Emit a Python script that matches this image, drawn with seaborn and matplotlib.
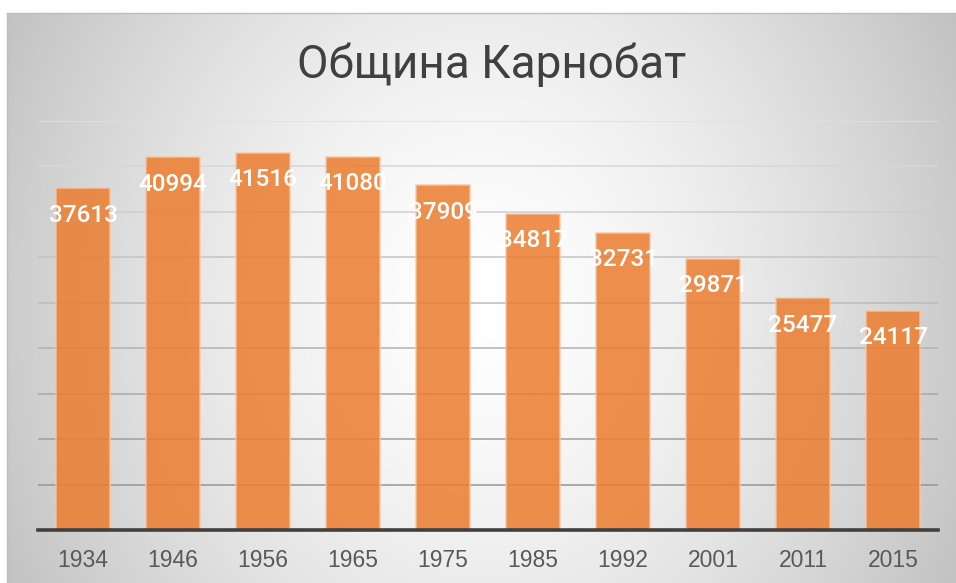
import numpy as np
import pandas as pd
import matplotlib
matplotlib.use("Agg")
import matplotlib.pyplot as plt
import seaborn as sns

years = ["1934", "1946", "1956", "1965", "1975", "1985", "1992", "2001", "2011", "2015"]
population = [37613, 40994, 41516, 41080, 37909, 34817, 32731, 29871, 25477, 24117]
title = "Община Карнобат"

sns.set_theme(style="white")
plt.rcParams["font.family"] = ["Liberation Sans", "DejaVu Sans"]

W, H = 956, 583
fig = plt.figure(figsize=(W / 100, H / 100), dpi=100)

# background gradient with frame
bg = fig.add_axes([0, 0, 1, 1], zorder=-10)
yy, xx = np.mgrid[0:H, 0:W]
d = np.sqrt(((xx - 480) / 520.0) ** 2 + ((yy - 300) / 600.0) ** 2)
val = 1 - 0.23 * d ** 1.5
val = np.clip(val, 0.72, 1.0)
img = np.dstack([val, val, val])
img[(xx < 7) | (yy < 13)] = 1.0
bg.imshow(img, extent=[0, W, H, 0], aspect="auto", interpolation="bilinear")
bg.plot([7, 7], [13, H], color="#bdbdbd", lw=1.0)
bg.plot([7, W], [13, 13], color="#bdbdbd", lw=1.0)
bg.set_xlim(0, W)
bg.set_ylim(H, 0)
bg.axis("off")

# main axes
left, right, base, top = 38, 938, 530, 121
ax = fig.add_axes([left / W, (H - base) / H, (right - left) / W, (base - top) / H])
ax.patch.set_alpha(0)

df = pd.DataFrame({"year": years, "pop": population})
sns.barplot(data=df, x="year", y="pop", color="#ED7D31", saturation=1, alpha=0.86, width=0.6,
            edgecolor="#F8C6A2", linewidth=1.1, ax=ax, zorder=3)

ax.set_ylim(0, 45000)
ax.set_xlim(-0.5, len(years) - 0.5)

grid_vals = np.arange(5000, 45001, 5000)
for g in grid_vals:
    t = g / 45000.0
    c = 0.55 + (0.88 - 0.55) * t
    ax.axhline(g, color=(c, c, c), lw=1.1, zorder=1)

for s in ["top", "right", "left"]:
    ax.spines[s].set_visible(False)
ax.spines["bottom"].set_color("#404040")
ax.spines["bottom"].set_linewidth(2.6)
ax.spines["bottom"].set_zorder(5)
ax.set_yticks([])
ax.set_xlabel("")
ax.set_ylabel("")
ax.tick_params(axis="x", length=0, pad=14, labelsize=16.5, labelcolor="#595959")

for i, v in enumerate(population):
    ax.annotate(str(v), xy=(i, v), xytext=(0, -27), textcoords="offset pixels",
                ha="center", va="center", color="white", fontsize=17.5, zorder=6,
                family=["Roboto", "DejaVu Sans"], fontweight="medium")

fig.text(492 / W, 1 - 78 / H, title, ha="center", va="baseline",
         fontsize=33, color="#404040", family=["Roboto", "DejaVu Sans"])

fig.savefig("out.png", dpi=100)
